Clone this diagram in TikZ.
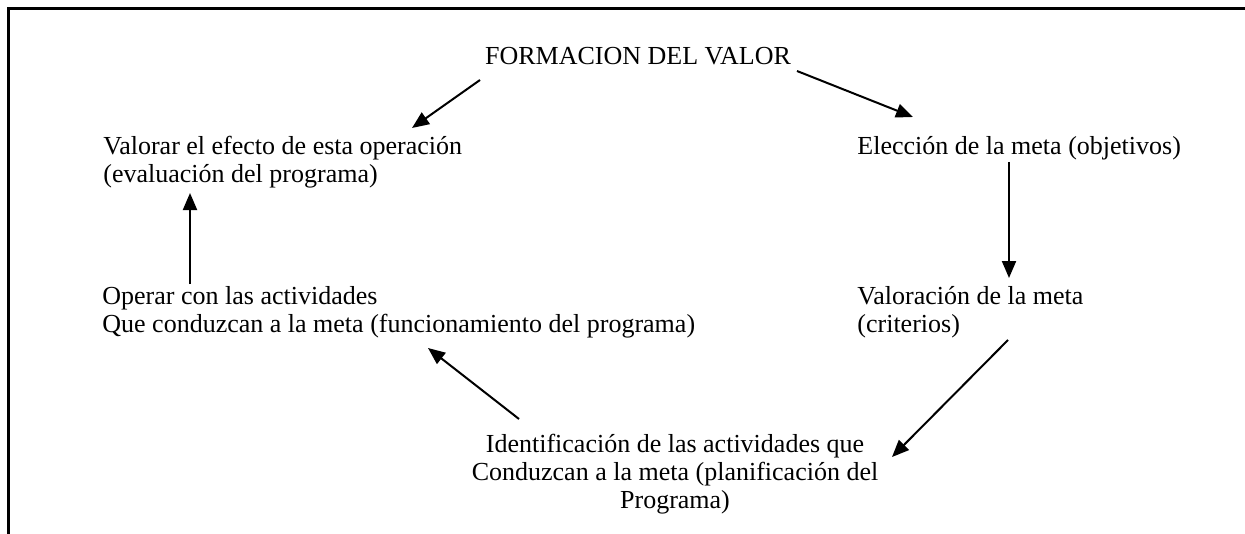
\documentclass[tikz,border=0pt]{standalone}
\usepackage{fontspec}
\setmainfont{Liberation Serif}
\usetikzlibrary{arrows.meta}

\begin{document}
\begin{tikzpicture}[
    x=0.5pt, y=-0.5pt,
    texto/.style={
        inner sep=0pt,
        font={\fontsize{13}{14}\selectfont}},
    flecha/.style={
        line width=1pt,
        -{Triangle[length=8.5pt,width=7pt]}}]
    \useasboundingbox (0,0) rectangle (1245,534);

    % marco
    \draw[line width=1.35pt] (8.7,534) -- (8.7,8.7) -- (1245,8.7);

    % textos (base = linea de base de la ultima linea)
    \node[texto, anchor=base]
        (valor) at (638,65) {FORMACION DEL VALOR};
    \node[texto, anchor=base west, align=left]
        (efecto) at (103,183) {Valorar el efecto de esta operación\\(evaluación del programa)};
    \node[texto, anchor=base west, align=left]
        (eleccion) at (857,155) {Elección de la meta (objetivos)};
    \node[texto, anchor=base west, align=left]
        (operar) at (102,332) {Operar con las actividades\\Que conduzcan a la meta (funcionamiento del programa)};
    \node[texto, anchor=base west, align=left]
        (criterio) at (857,332) {Valoración de la meta\\(criterios)};
    \node[texto, anchor=base, align=center]
        (identif) at (675,508) {Identificación de las actividades que\\Conduzcan a la meta (planificación del\\Programa)};

    % extremos de las flechas
    \coordinate (a1) at (480,80);
    \coordinate (b1) at (412,128);
    \coordinate (a2) at (797,71);
    \coordinate (b2) at (913,117);
    \coordinate (a3) at (1009,162);
    \coordinate (b3) at (1009,278);
    \coordinate (a4) at (1008,340);
    \coordinate (b4) at (892,457);
    \coordinate (a5) at (519,419);
    \coordinate (b5) at (428,348);
    \coordinate (a6) at (190,284);
    \coordinate (b6) at (190,193);

    % flechas
    \draw[flecha] (a1) -- (b1);
    \draw[flecha] (a2) -- (b2);
    \draw[flecha] (a3) -- (b3);
    \draw[flecha] (a4) -- (b4);
    \draw[flecha] (a5) -- (b5);
    \draw[flecha] (a6) -- (b6);
\end{tikzpicture}
\end{document}
